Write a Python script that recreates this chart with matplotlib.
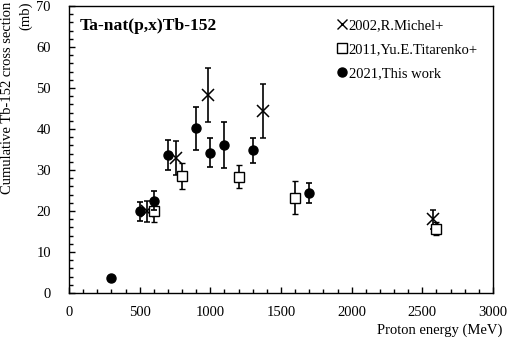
import matplotlib
matplotlib.use("Agg")
import matplotlib.pyplot as plt
from matplotlib.lines import Line2D
from matplotlib.ticker import MultipleLocator

plt.rcParams['font.family'] = ['Liberation Serif', 'DejaVu Serif']

# 2021, This work
tw_E = [300, 500, 600, 700, 900, 1000, 1100, 1300, 1700]
tw_v = [3.6, 19.9, 22.5, 33.6, 40.2, 34.2, 36.0, 34.8, 24.4]
tw_e = [0.0, 2.3, 2.3, 3.7, 5.2, 3.5, 5.6, 3.0, 2.4]

# 2002, R.Michel+
mi_E = [553, 760, 985, 1375, 2575]
mi_v = [19.9, 32.9, 48.3, 44.4, 18.0]
mi_e = [2.6, 4.2, 6.6, 6.6, 2.3]

# 2011, Yu.E.Titarenko+
ti_E = [600, 800, 1200, 1600, 2600]
ti_v = [20.0, 28.5, 28.4, 23.2, 15.7]
ti_e = [2.8, 3.1, 2.9, 4.0, 1.6]

fig = plt.figure(figsize=(5.10, 3.39), dpi=100)
ax = fig.add_axes([69/510, 1-293/339, (493-69)/510, (293-6)/339])

ekw = dict(ecolor='black', elinewidth=1.2, capsize=2, capthick=1.2, linestyle='none')
ax.errorbar(mi_E, mi_v, yerr=mi_e, marker='x', ms=8, mew=1.1, mfc='none', mec='black', zorder=3, **ekw)
ax.errorbar(ti_E, ti_v, yerr=ti_e, marker='s', ms=6.5, mew=1.0, mfc='white', mec='black', zorder=4, **ekw)
ax.errorbar(tw_E, tw_v, yerr=tw_e, marker='o', ms=6.5, mfc='black', mec='black', zorder=5, **ekw)

ax.set_xlim(0, 3000)
ax.set_ylim(0, 70)
ax.xaxis.set_major_locator(MultipleLocator(500))
ax.xaxis.set_minor_locator(MultipleLocator(100))
ax.yaxis.set_major_locator(MultipleLocator(10))
ax.yaxis.set_minor_locator(MultipleLocator(2))
ax.tick_params(which='both', direction='in', top=False, right=False, width=1.0, labelsize=10.5)
ax.tick_params(which='major', length=4)
ax.tick_params(which='minor', length=3)
ax.tick_params(axis='x', pad=9)
ax.tick_params(axis='y', pad=13)
for s in ax.spines.values():
    s.set_linewidth(1.0)

ax.text(0.026, 0.93, 'Ta-nat(p,x)Tb-152', transform=ax.transAxes, fontsize=12.6,
        fontweight='bold', ha='left', va='center')

handles = [
    Line2D([], [], marker='x', ms=7, mew=1.0, color='black', linestyle='none'),
    Line2D([], [], marker='s', ms=6.5, mew=1.0, mfc='white', mec='black', linestyle='none'),
    Line2D([], [], marker='o', ms=6.5, color='black', linestyle='none'),
]
labels = ['2002,R.Michel+', '2011,Yu.E.Titarenko+', '2021,This work']
ax.legend(handles, labels, loc='upper left', bbox_to_anchor=(0.608, 0.99), frameon=False,
          fontsize=10.5, handlelength=0.7, handletextpad=0.1, labelspacing=0.75,
          borderaxespad=0.3)

fig.text(502/510, 1-330/339, 'Proton energy (MeV)', ha='right', va='center', fontsize=10.5)
fig.text(17/510, 1-2/339, 'Cumulative Tb-152 cross section\n(mb)', rotation=90,
         ha='center', va='top', multialignment='right', fontsize=10.5, linespacing=1.5)

fig.savefig('out.png', dpi=100)
